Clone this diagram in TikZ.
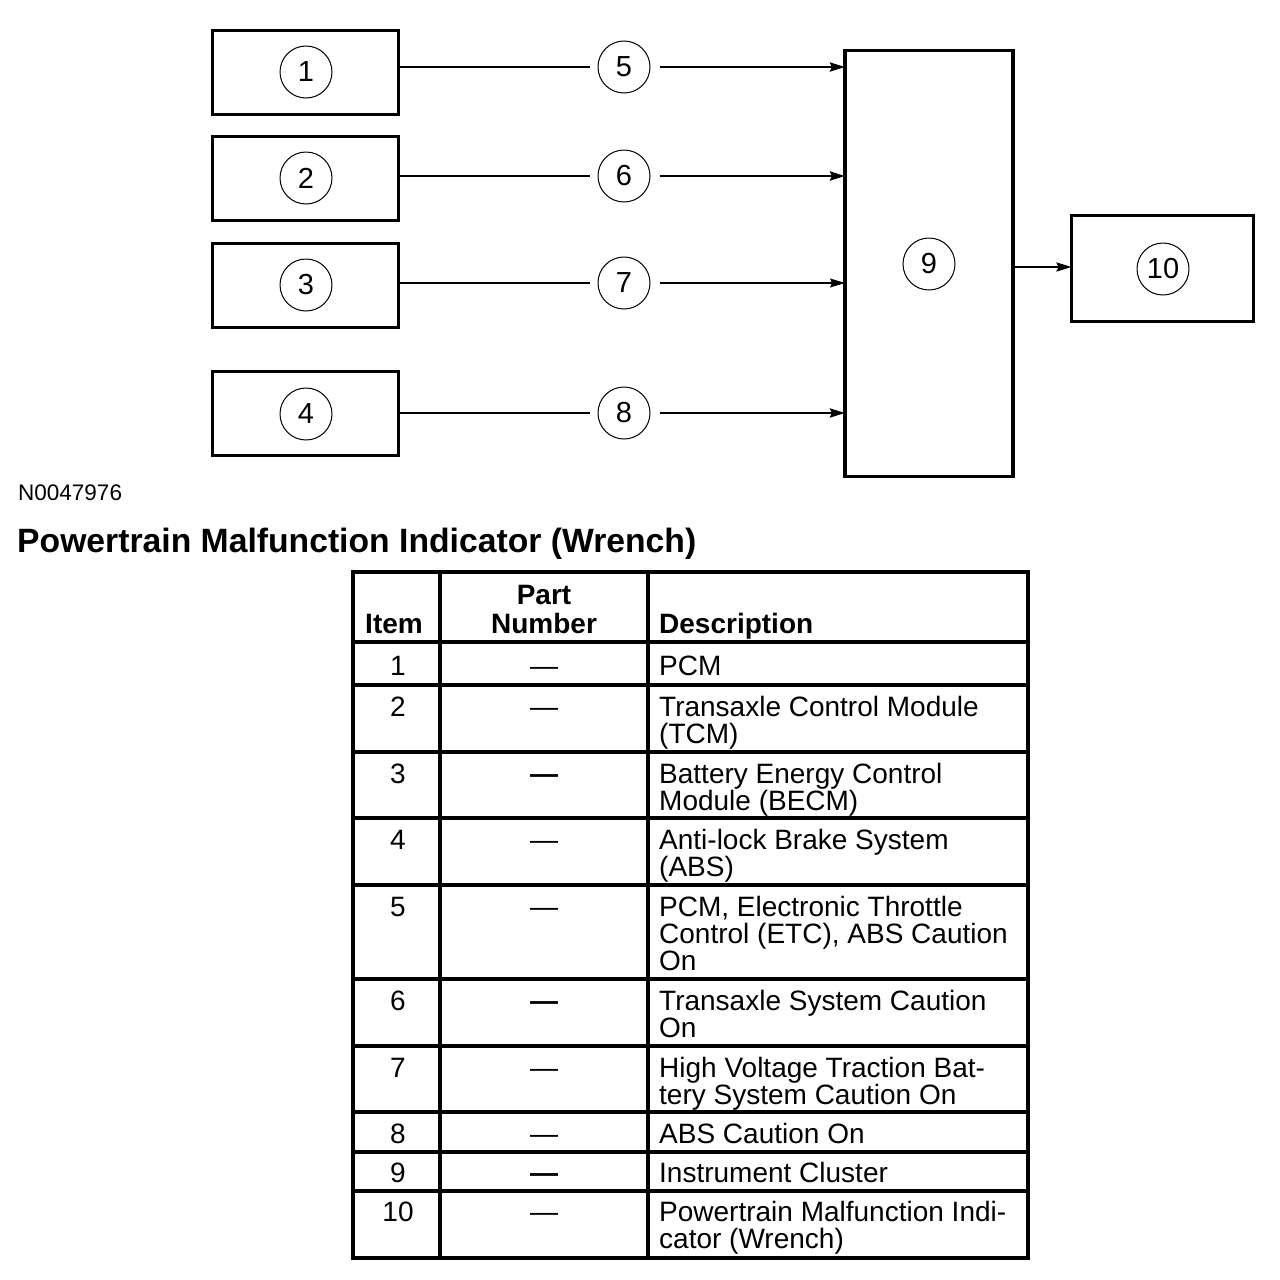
\documentclass[tikz,border=0pt]{standalone}
\usepackage{fontspec}
\setmainfont{Liberation Sans}
\usetikzlibrary{arrows.meta}
\begin{document}
\begin{tikzpicture}[x=1pt,y=-1pt,
  box/.style={draw,line width=3.4pt,inner sep=0pt,outer sep=0pt},
  num/.style={draw,circle,line width=1pt,minimum size=52pt,inner sep=0pt,font=\fontsize{29}{30}\selectfont},
  wire/.style={line width=2.7pt},
  thin wire/.style={line width=1.1pt},
  arr/.style={-{Stealth[length=15pt,width=9pt,inset=2pt]}},
  tbl/.style={line width=3.2pt,line cap=rect},
  hdr/.style={inner sep=0pt,font=\bfseries\fontsize{28}{27}\selectfont},
  cell/.style={inner sep=0pt,font=\fontsize{28}{27}\selectfont}
]
\fill[white] (0,0) rectangle (1280,1280);
\useasboundingbox (0,0) rectangle (1280,1280);

% source boxes
\node[box,minimum width=186pt,minimum height=84pt] (b1) at (305.5,72.5) {};
\node[box,minimum width=186pt,minimum height=84pt] (b2) at (305.5,178.5) {};
\node[box,minimum width=186pt,minimum height=84pt] (b3) at (305.5,285.5) {};
\node[box,minimum width=186pt,minimum height=84pt] (b4) at (305.5,413.5) {};
\node[num] (n1) at (306,72) {1};
\node[num] (n2) at (306,178) {2};
\node[num] (n3) at (306,285) {3};
\node[num] (n4) at (306,414) {4};

% instrument cluster and indicator
\node[box,minimum width=168pt,minimum height=426pt] (b9) at (929,263.5) {};
\node[num] (n9) at (929,264) {9};
\node[box,minimum width=182pt,minimum height=106pt] (b10) at (1162.5,268.5) {};
\node[num] (n10) at (1163,269) {10};

% message circles
\node[num] (c5) at (624,67) {5};
\node[num] (c6) at (624,176) {6};
\node[num] (c7) at (624,283) {7};
\node[num] (c8) at (624,413) {8};

% connectors
\draw[wire,shorten >=8pt] (b1.east |- c5) -- (c5.west);
\draw[wire,shorten >=8pt] (b2.east |- c6) -- (c6.west);
\draw[thin wire,shorten >=8pt] (b3.east |- c7) -- (c7.west);
\draw[wire,shorten >=8pt] (b4.east |- c8) -- (c8.west);
\draw[wire,arr,shorten <=9pt] (c5.east) -- (b9.west |- c5);
\draw[wire,arr,shorten <=9pt] (c6.east) -- (b9.west |- c6);
\draw[thin wire,arr,shorten <=9pt] (c7.east) -- (b9.west |- c7);
\draw[wire,arr,shorten <=9pt] (c8.east) -- (b9.west |- c8);
\coordinate (o9) at (1015,267);
\draw[line width=2.2pt,arr] (o9) -- (b10.west |- o9);

% captions
\node[anchor=base west,inner sep=0pt,font=\fontsize{22.5}{27}\selectfont] (code) at (18,500) {N0047976};
\node[anchor=base west,inner sep=0pt,font=\bfseries\fontsize{33.7}{40}\selectfont] (title) at (17,552) {Powertrain Malfunction Indicator (Wrench)};

% table grid
\draw[tbl] (353,572) rectangle (1028,1258);
\draw[tbl] (440,572) -- (440,1258);
\draw[tbl] (648,572) -- (648,1258);
\foreach \yy in {642,685,752,818,885,979,1046,1112,1152,1191}
  \draw[tbl] (353,\yy) -- (1028,\yy);

% header
\node[hdr,anchor=base] (hitem) at (394,633) {Item};
\node[hdr,anchor=base] (hpart) at (544,604) {Part};
\node[hdr,anchor=base] (hnum) at (544,633) {Number};
\node[hdr,anchor=base west] (hdesc) at (659,633) {Description};

% rows
\foreach \bl/\it/\bd/\txt in {
  675/1/0/{PCM},
  716/2/0/{Transaxle Control Module\\(TCM)},
  783/3/1/{Battery Energy Control\\Module (BECM)},
  849/4/0/{Anti-lock Brake System\\(ABS)},
  916/5/0/{PCM, Electronic Throttle\\Control (ETC), ABS Caution\\On},
  1010/6/1/{Transaxle System Caution\\On},
  1077/7/0/{High Voltage Traction Bat-\\tery System Caution On},
  1143/8/0/{ABS Caution On},
  1182/9/1/{Instrument Cluster},
  1221/10/0/{Powertrain Malfunction Indi-\\cator (Wrench)}} {
  \node[cell,anchor=base] (item\it) at (398,\bl) {\it};
  \node[cell,anchor=base] (dash\it) at (544,\bl) {\ifnum\bd=1 \bfseries\fi ---};
  \node[cell,anchor=base west] (desc\it) at (659,\bl) {\parbox[t]{360pt}{\raggedright\fontsize{28}{27}\selectfont \txt}};
}
\end{tikzpicture}
\end{document}
